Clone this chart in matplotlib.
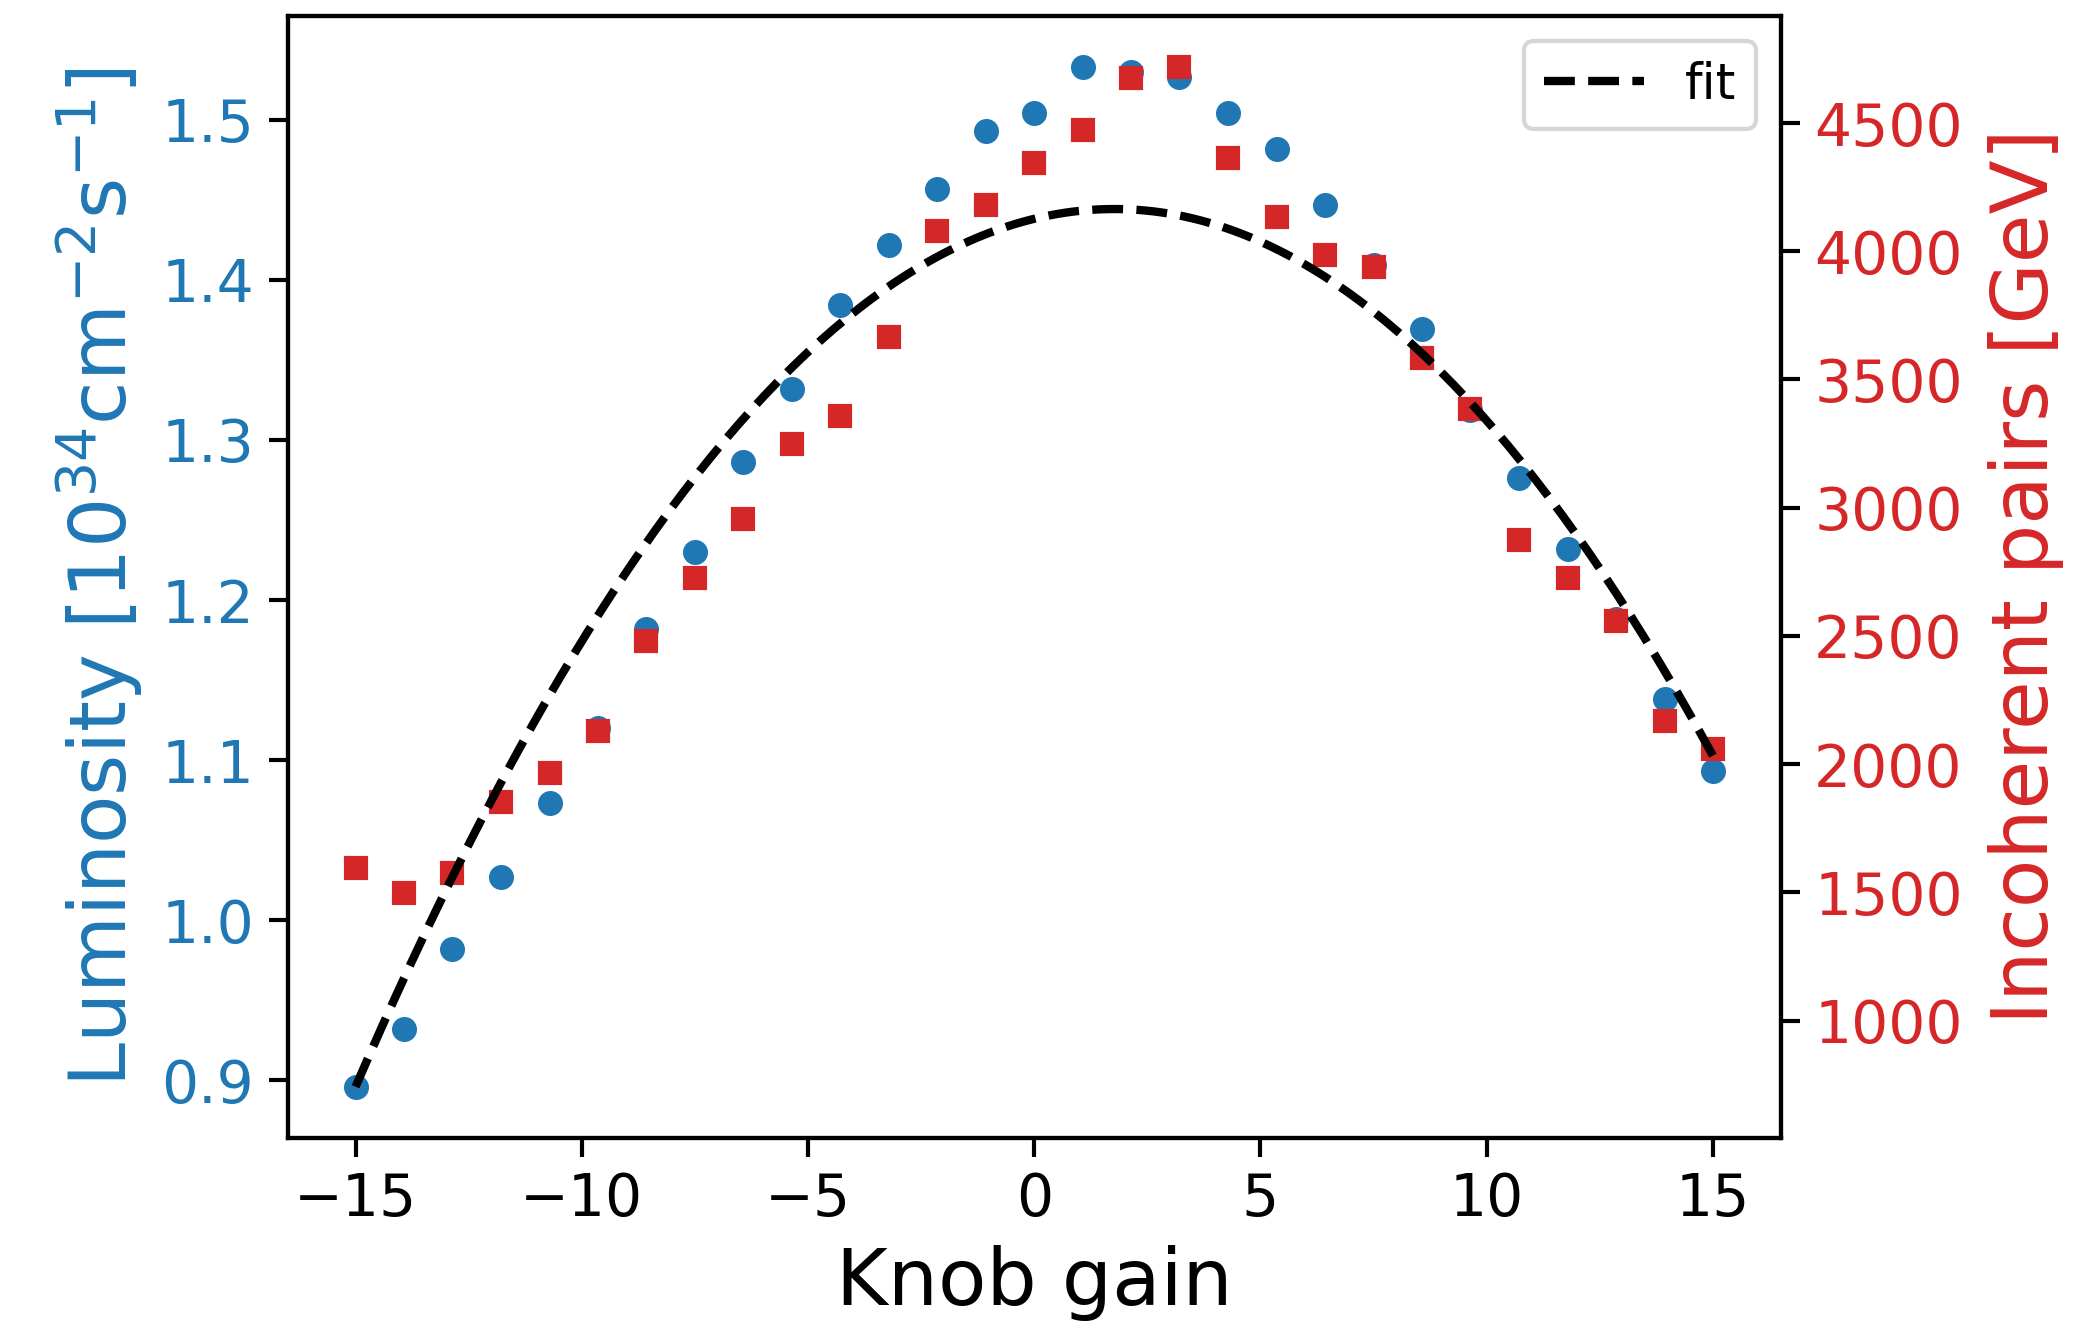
import matplotlib
matplotlib.use("Agg")
import matplotlib.pyplot as plt
import numpy as np

# Knob gain values (29 scan points)
knob_gain = [-15.00, -13.93, -12.86, -11.79, -10.71, -9.64, -8.57, -7.50, -6.43, -5.36,
             -4.29, -3.21, -2.14, -1.07, 0.00, 1.07, 2.14, 3.21, 4.29, 5.36,
             6.43, 7.50, 8.57, 9.64, 10.71, 11.79, 12.86, 13.93, 15.00]

# Luminosity [1e34 cm^-2 s^-1]
luminosity = [0.896, 0.932, 0.982, 1.027, 1.073, 1.120, 1.182, 1.230, 1.286, 1.332,
              1.384, 1.422, 1.457, 1.493, 1.504, 1.533, 1.530, 1.527, 1.504, 1.482,
              1.447, 1.409, 1.369, 1.319, 1.276, 1.232, 1.188, 1.138, 1.093]

# Incoherent pairs [GeV]
incoherent = [1596, 1497, 1575, 1851, 1966, 2128, 2482, 2727, 2957, 3249,
              3358, 3666, 4078, 4182, 4344, 4474, 4677, 4719, 4364, 4135,
              3984, 3937, 3582, 3384, 2873, 2727, 2560, 2169, 2060]

xlabel = "Knob gain"
ylabel_left = r"Luminosity [$10^{34}$cm$^{-2}$s$^{-1}$]"
ylabel_right = "Incoherent pairs [GeV]"
legend_label = "fit"

blue = "tab:blue"
red = "tab:red"

# quadratic fit of the incoherent pairs vs knob gain
coeffs = np.polyfit(knob_gain, incoherent, 2)
fit_x = np.linspace(min(knob_gain), max(knob_gain), 200)
fit_y = np.polyval(coeffs, fit_x)

fig = plt.figure(figsize=(7, 4.42), dpi=300)
ax = fig.add_axes([0.137, 0.142, 0.711, 0.846])
ax.plot(knob_gain, luminosity, "o", color=blue, markersize=5)
ax.set_xlabel(xlabel, fontsize=19)
ax.set_ylabel(ylabel_left, color=blue, fontsize=19)
ax.tick_params(axis="y", labelcolor=blue, labelsize=14, length=4.5, width=1.0)
ax.tick_params(axis="x", labelsize=14, length=4.5, width=1.0)
for s in ax.spines.values():
    s.set_linewidth(1.0)

ax2 = ax.twinx()
ax2.plot(knob_gain, incoherent, "s", color=red, markersize=5)
ax2.plot(fit_x, fit_y, "k--", linewidth=2, label=legend_label)
ax2.set_ylabel(ylabel_right, color=red, fontsize=19, labelpad=6)
ax2.tick_params(axis="y", labelcolor=red, labelsize=14, length=4.5, width=1.0)
for s in ax2.spines.values():
    s.set_linewidth(1.0)
ax2.legend(loc="upper right", fontsize=12)

fig.savefig("out.png", dpi=300)
